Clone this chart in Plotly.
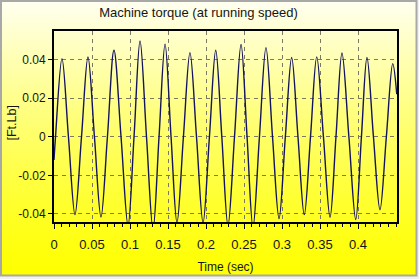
import plotly.graph_objects as go

# ---- data ----
time_s = [0.000, 0.002, 0.0105, 0.0190, 0.0276, 0.0362, 0.0447, 0.0532, 0.0618, 0.0703,
          0.0789, 0.0882, 0.0974, 0.1053, 0.1132, 0.1217, 0.1303, 0.1382, 0.1461, 0.1540,
          0.1618, 0.1703, 0.1789, 0.1875, 0.1961, 0.2045, 0.2128, 0.2208, 0.2289, 0.2375,
          0.2461, 0.2540, 0.2618, 0.2703, 0.2789, 0.2875, 0.2961, 0.3044, 0.3127, 0.3210,
          0.3293, 0.3375, 0.3457, 0.3545, 0.3632, 0.3710, 0.3789, 0.3880, 0.3970, 0.4045,
          0.4118, 0.4203, 0.4289, 0.4373, 0.4457, 0.4510]
torque = [-0.012, 0.000, 0.0405, 0.000, -0.0404, 0.000, 0.0413, 0.000, -0.0416, 0.000,
          0.0448, 0.000, -0.0460, 0.000, 0.0496, 0.000, -0.0480, 0.000, 0.0480, 0.000,
          -0.0445, 0.000, 0.0436, 0.000, -0.0445, 0.000, 0.0448, 0.000, -0.0460, 0.000,
          0.0478, 0.000, -0.0470, 0.000, 0.0462, 0.000, -0.0424, 0.000, 0.0411, 0.000,
          -0.0404, 0.000, 0.0414, 0.000, -0.0417, 0.000, 0.0434, 0.000, -0.0429, 0.000,
          0.0411, 0.000, -0.0378, 0.000, 0.0379, 0.022]
x_ticks = [0, 0.05, 0.1, 0.15, 0.2, 0.25, 0.3, 0.35, 0.4]
x_tick_labels = ["0", "0.05", "0.1", "0.15", "0.2", "0.25", "0.3", "0.35", "0.4"]
y_ticks = [-0.04, -0.02, 0, 0.02, 0.04]
y_tick_labels = ["-0.04", "-0.02", "0", "0.02", "0.04"]

W, H = 419, 279
L, R, T, B = 54, 397, 31, 222  # plot box in pixels
PW, PH = R - L, B - T

def px_x(px):
    return (px - L) / PW

def px_y(py):
    return (B - py) / PH

FONT = "Liberation Sans, Arial, sans-serif"
TXT = "#151515"

fig = go.Figure()
fig.add_trace(go.Scatter(
    x=time_s, y=torque, mode="lines",
    line=dict(color="#14145e", width=1.4, shape="spline", smoothing=1.0),
    hoverinfo="skip", showlegend=False,
))

shapes = []
# vertical gradient background (cream -> yellow)
top, bot = 2, 276
step = 3
py = top
while py < bot:
    t = (py - top) / (bot - top)
    b = int(round(238 * (1 - t) ** 1.25))
    shapes.append(dict(type="rect", xref="paper", yref="paper",
                       x0=px_x(2), x1=px_x(416), y0=px_y(min(py + step, bot)), y1=px_y(py),
                       fillcolor=f"rgb(255,255,{b})", line=dict(width=0), layer="below"))
    py += step
# grey outer frame
shapes.append(dict(type="rect", xref="paper", yref="paper",
                   x0=px_x(1), x1=px_x(416.5), y0=px_y(275.5), y1=px_y(1),
                   line=dict(color="#a8a8a8", width=2), fillcolor="rgba(0,0,0,0)", layer="below"))

fig.update_layout(
    width=W, height=H,
    margin=dict(l=L, r=W - R, t=T, b=H - B, pad=0, autoexpand=False),
    paper_bgcolor="#f2f2f2",
    plot_bgcolor="rgba(0,0,0,0)",
    shapes=shapes,
    title=dict(text="Machine torque (at running speed)", x=198.5 / W, xanchor="center",
               y=1 - 12.5 / H, yanchor="middle", yref="container",
               font=dict(family=FONT, size=13, color=TXT)),
    font=dict(family=FONT, size=12, color=TXT),
    showlegend=False,
    annotations=[dict(text="[Ft.Lb]", textangle=-90, xref="paper", yref="paper",
                      x=px_x(11), y=px_y(122.5), xanchor="center", yanchor="middle",
                      showarrow=False, font=dict(family=FONT, size=12.5, color=TXT))],
)
fig.update_xaxes(
    range=[0, 0.4513], tickvals=x_ticks, ticktext=x_tick_labels,
    showgrid=True, gridcolor="#7a7a60", griddash="4px,4px", gridwidth=1,
    showline=True, linecolor="black", linewidth=2, mirror=True,
    ticks="outside", ticklen=5, tickcolor="black", tickwidth=1,
    minor=dict(dtick=0.01, ticks="outside", ticklen=3, tickcolor="black", showgrid=False),
    zeroline=False, automargin=False, ticklabelstandoff=4,
    tickfont=dict(family=FONT, size=13, color=TXT),
    title=dict(text="Time (sec)", font=dict(family=FONT, size=12, color=TXT), standoff=12),
)
fig.update_yaxes(
    range=[-0.0442, 0.0548], tickvals=y_ticks, ticktext=y_tick_labels,
    showgrid=True, gridcolor="#7a7a60", griddash="4px,4px", gridwidth=1,
    showline=True, linecolor="black", linewidth=2, mirror=True,
    ticks="outside", ticklen=4, tickcolor="black", tickwidth=1,
    zeroline=False, automargin=False, tickfont=dict(family=FONT, size=12, color=TXT),
)

fig.write_html("out.html")
